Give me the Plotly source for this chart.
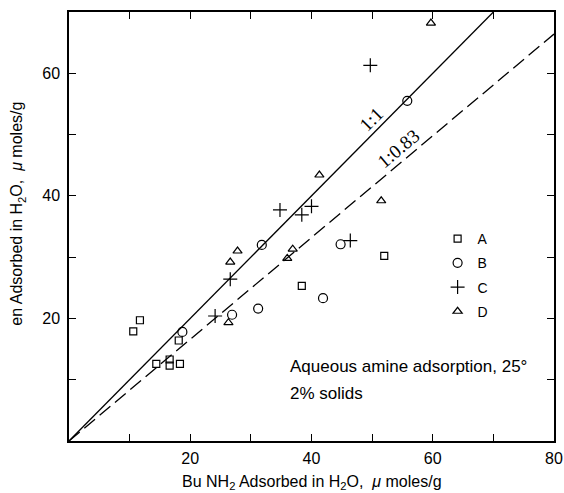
import plotly.graph_objects as go

# Sample A (squares)
A_x = [10.6, 11.7, 14.4, 16.6, 16.6, 18.1, 18.3, 38.4, 52.0]
A_y = [17.9, 19.7, 12.6, 13.3, 12.3, 16.4, 12.6, 25.3, 30.2]
# Sample B (circles)
B_x = [18.7, 26.9, 31.2, 31.8, 41.9, 44.8, 55.8]
B_y = [17.8, 20.6, 21.6, 32.0, 23.3, 32.1, 55.5]
# Sample C (plus)
C_x = [24.1, 26.6, 34.8, 38.4, 40.0, 46.4, 49.7]
C_y = [20.4, 26.4, 37.7, 36.9, 38.3, 32.7, 61.3]
# Sample D (triangles)
D_x = [26.3, 26.6, 27.8, 36.0, 36.9, 41.3, 51.5, 59.7]
D_y = [19.3, 29.2, 31.0, 29.8, 31.3, 43.4, 39.2, 68.2]

# Reference ratio lines
line11_x = [0, 70]
line11_y = [0, 70]
line083_x = [0, 80]
line083_y = [0, 66.4]

x_ticks = [10, 20, 30, 40, 50, 60, 70, 80]
x_ticktext = ["", "20", "", "40", "", "60", "", "80"]
y_ticks = [10, 20, 30, 40, 50, 60]
y_ticktext = ["", "20", "", "40", "", "60"]

BLACK = "black"
fig = go.Figure()

fig.add_trace(go.Scatter(x=line11_x, y=line11_y, mode="lines",
                         line=dict(color=BLACK, width=1.3), showlegend=False,
                         hoverinfo="skip"))
fig.add_trace(go.Scatter(x=line083_x, y=line083_y, mode="lines",
                         line=dict(color=BLACK, width=1.3, dash="14px,6px"),
                         showlegend=False, hoverinfo="skip"))

series = [
    ("A", A_x, A_y, "square-open", 7),
    ("B", B_x, B_y, "circle-open", 9),
    ("C", C_x, C_y, "cross-thin-open", 10),
    ("D", D_x, D_y, "triangle-up-open", 8),
]
for name, xs, ys, sym, sz in series:
    fig.add_trace(go.Scatter(
        x=xs, y=ys, mode="markers", name=name, legendgroup=name,
        marker=dict(symbol=sym, size=sz, color=BLACK,
                    line=dict(color=BLACK, width=1.2)),
    ))

fig.add_annotation(x=49.8, y=52.5, xref="x", yref="y", text="1:1",
                   showarrow=False, textangle=-45,
                   font=dict(family="Liberation Serif", size=19, color=BLACK))
fig.add_annotation(x=54.3, y=47.8, xref="x", yref="y", text="1:0.83",
                   showarrow=False, textangle=-40,
                   font=dict(family="Liberation Serif", size=19, color=BLACK))
fig.add_annotation(x=36.1, y=12.1, xref="x", yref="y",
                   text="Aqueous amine adsorption, 25°",
                   showarrow=False, xanchor="left", yanchor="middle",
                   font=dict(family="Liberation Sans", size=17, color=BLACK))
fig.add_annotation(x=36.1, y=7.8, xref="x", yref="y",
                   text="2% solids",
                   showarrow=False, xanchor="left", yanchor="middle",
                   font=dict(family="Liberation Sans", size=17, color=BLACK))

# Axis titles
fig.add_annotation(x=0.5, y=0, xref="paper", yref="paper", yshift=-41,
                   text="Bu NH<sub>2</sub> Adsorbed in H<sub>2</sub>O,  <i>μ</i> moles/g",
                   showarrow=False, xanchor="center", yanchor="middle",
                   font=dict(family="Liberation Sans", size=16, color=BLACK))
fig.add_annotation(x=0, y=0.53, xref="paper", yref="paper", xshift=-51,
                   text="en Adsorbed in H<sub>2</sub>O,  <i>μ</i> moles/g",
                   showarrow=False, textangle=-90, xanchor="center", yanchor="middle",
                   font=dict(family="Liberation Sans", size=16, color=BLACK))

axis_common = dict(
    showline=True, linecolor=BLACK, linewidth=1.5, mirror="ticks",
    ticks="inside", ticklen=7, tickwidth=1.2, tickcolor=BLACK,
    showgrid=False, zeroline=False, automargin=False,
    tickfont=dict(family="Liberation Sans", size=16, color=BLACK),
)

fig.update_layout(
    width=564, height=493,
    margin=dict(l=69, r=10, t=12, b=52),
    paper_bgcolor="white", plot_bgcolor="white",
    font=dict(family="Liberation Sans", color=BLACK),
    xaxis=dict(range=[0, 80], tickvals=x_ticks, ticktext=x_ticktext,
               ticklabelstandoff=2, ticklabeloverflow="allow", **axis_common),
    yaxis=dict(range=[0, 70], tickvals=y_ticks, ticktext=y_ticktext,
               ticklabelstandoff=4, **axis_common),
    legend=dict(x=0.76, y=0.508, xanchor="left", yanchor="top",
                traceorder="grouped", tracegroupgap=3,
                bgcolor="rgba(0,0,0,0)",
                font=dict(family="Liberation Sans", size=14, color=BLACK)),
    showlegend=True,
)

# Remove the default 8px page margin so the 564x493 figure fills the window.
fig.write_html("out.html",
               config={"displayModeBar": False},
               post_script="document.body.style.margin='0';"
                           "document.body.style.overflow='hidden';")
